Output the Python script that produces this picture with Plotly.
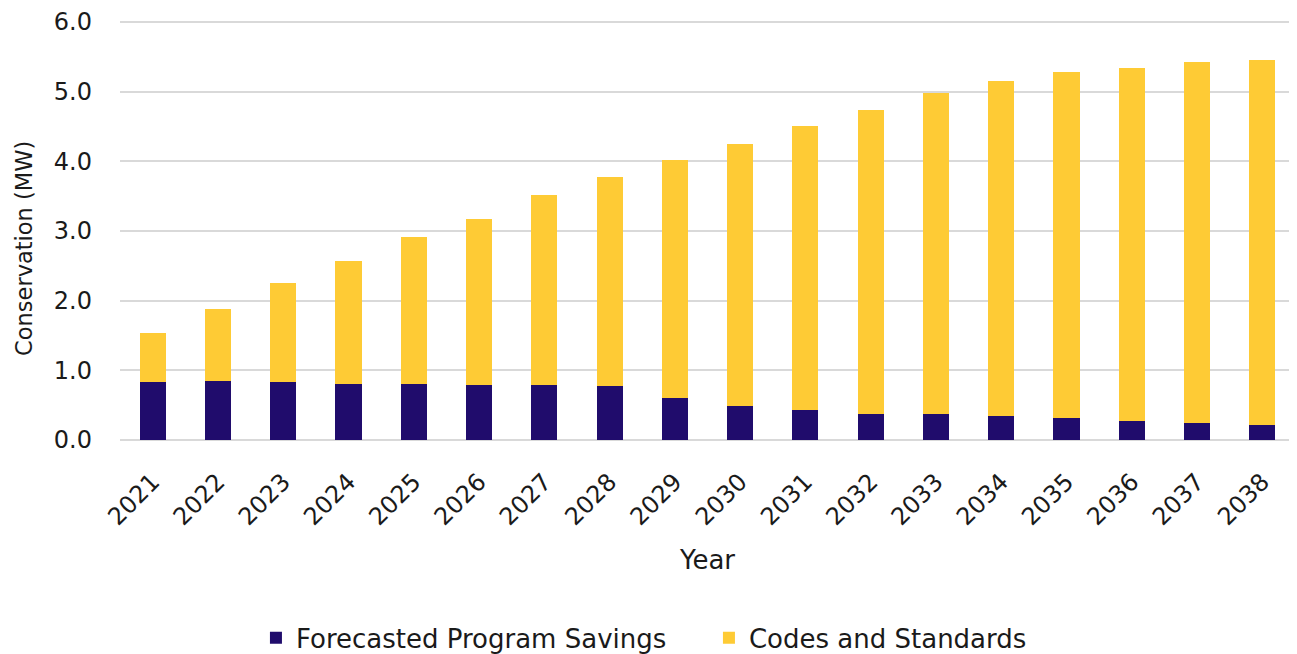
import plotly.graph_objects as go

years = [str(y) for y in range(2021, 2039)]
program_savings = [0.83, 0.85, 0.83, 0.81, 0.81, 0.79, 0.79, 0.77, 0.61, 0.49,
                   0.43, 0.37, 0.37, 0.34, 0.31, 0.27, 0.24, 0.21]
totals = [1.54, 1.88, 2.26, 2.57, 2.91, 3.17, 3.52, 3.78, 4.02, 4.25,
          4.51, 4.74, 4.98, 5.16, 5.28, 5.34, 5.42, 5.46]
codes_standards = [round(t - p, 2) for t, p in zip(totals, program_savings)]
y_ticks = [0, 1, 2, 3, 4, 5, 6]
y_tick_labels = ["0.0", "1.0", "2.0", "3.0", "4.0", "5.0", "6.0"]

FONT = "DejaVu Sans, Verdana, sans-serif"
TXT = "#1a1a1a"

fig = go.Figure()
fig.add_trace(go.Bar(x=years, y=program_savings, name="Forecasted Program Savings",
                     marker=dict(color="#200C6C", line=dict(width=0))))
fig.add_trace(go.Bar(x=years, y=codes_standards, name="Codes and Standards",
                     marker=dict(color="#FECB35", line=dict(width=0))))

# page body has an 8px margin, so the figure is sized/placed to compensate
fig.update_layout(
    barmode="stack",
    bargap=0.6,
    width=1289, height=646,
    margin=dict(l=112, r=2, t=12, b=214, autoexpand=False),
    plot_bgcolor="white", paper_bgcolor="white",
    font=dict(family=FONT, size=24, color=TXT),
    xaxis=dict(
        tickangle=-45,
        tickfont=dict(size=24),
        ticklabelstandoff=22,
        title=dict(text="Year", font=dict(size=26), standoff=20),
        showgrid=False, showline=False, ticks="",
    ),
    yaxis=dict(
        range=[0, 6.03],
        tickvals=y_ticks, ticktext=y_tick_labels,
        tickfont=dict(size=24),
        showgrid=True, gridcolor="#D9D9D9", gridwidth=1.5,
        zeroline=True, zerolinecolor="#D9D9D9", zerolinewidth=1.5,
        ticks="", ticklen=0, ticklabelstandoff=27,
    ),
    legend=dict(orientation="h", x=0.1157, xanchor="left", y=-0.471, yanchor="middle",
                font=dict(size=26), traceorder="normal", entrywidth=408),
    showlegend=True,
    annotations=[dict(text="Conservation (MW)", textangle=-90,
                      xref="paper", yref="paper", x=-0.0817, y=0.455,
                      xanchor="center", yanchor="middle", showarrow=False,
                      font=dict(size=22.5, color=TXT))],
)

fig.write_html("out.html")
